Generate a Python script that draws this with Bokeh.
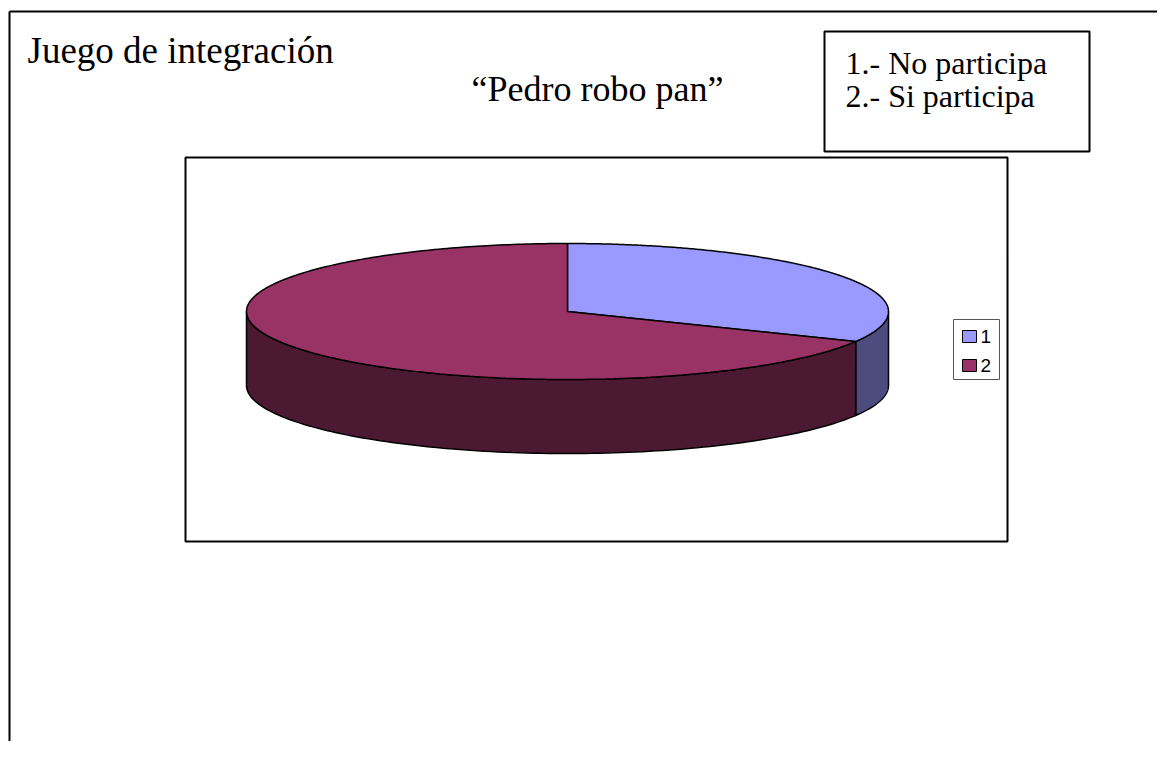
import numpy as np
from bokeh.plotting import figure
from bokeh.models import Range1d
from bokeh.core.properties import value
from bokeh.embed import file_html
from bokeh.resources import INLINE

# ---- data ----
categories = ["1", "2"]
counts = [10, 21]
top_colors = ["#9999FF", "#993366"]
side_colors = ["#4C4C7F", "#4C1933"]
title_main = "Juego de integración"
title_sub = "\u201cPedro robo pan\u201d"
note_lines = ["1.- No participa", "2.- Si participa"]

W, H = 1157, 741
p = figure(width=W, height=H, output_backend="svg", toolbar_location=None,
           x_range=Range1d(0, W), y_range=Range1d(H, 0),
           min_border=0, x_axis_location=None, y_axis_location=None,
           tools="")
p.grid.visible = False
p.outline_line_color = None
p.background_fill_color = "white"
p.border_fill_color = "white"

# outer page border (top and left)
p.line([9, 1180], [11, 11], line_color="black", line_width=2)
p.line([9, 9], [11, 770], line_color="black", line_width=2)

serif = value("Liberation Serif")
p.text(x=[27], y=[50], text=[title_main], text_font=serif, text_font_size="37px",
       text_baseline="middle", text_color="black")
p.text(x=[597], y=[88], text=[title_sub], text_font=serif, text_font_size="36px",
       text_baseline="middle", text_align="center", text_color="black")

# note box
p.quad(left=[824], right=[1089], top=[31], bottom=[151], fill_color="white",
       line_color="black", line_width=2)
p.text(x=[845, 845], y=[62, 95], text=note_lines, text_font=serif,
       text_font_size="32px", text_baseline="middle", text_color="black")

# chart area box
p.quad(left=[185], right=[1007], top=[157], bottom=[541], fill_color="white",
       line_color="black", line_width=2)

# ---- 3D pie ----
cx, cy, rx, ry, depth = 567, 311, 321, 68, 74
vals = np.array(counts, dtype=float)
fr = vals / vals.sum()
starts = 90 - 360 * np.concatenate([[0], np.cumsum(fr)[:-1]])
ends = starts - 360 * fr


def ex(t):
    return cx + rx * np.cos(np.radians(t))


def ey(t):
    return cy - ry * np.sin(np.radians(t))


# side walls (visible front half: 180..360 deg)
wall_xs, wall_ys, wall_cols = [], [], []
for s, e, col in zip(starts, ends, side_colors):
    for k in range(-2, 2):
        lo = max(e, 180 + 360 * k)
        hi = min(s, 360 + 360 * k)
        if hi > lo:
            t = np.linspace(lo, hi, 120)
            xs = list(ex(t)) + list(ex(t[::-1]))
            ys = list(ey(t)) + list(ey(t[::-1]) + depth)
            wall_xs.append(xs)
            wall_ys.append(ys)
            wall_cols.append(col)
p.patches(wall_xs, wall_ys, fill_color=wall_cols, line_color="black", line_width=1.5)

# top faces
top_xs, top_ys = [], []
for s, e in zip(starts, ends):
    t = np.linspace(s, e, 300)
    top_xs.append([cx] + list(ex(t)))
    top_ys.append([cy] + list(ey(t)))
p.patches(top_xs, top_ys, fill_color=top_colors, line_color="black", line_width=1.5)

# legend
p.quad(left=[953], right=[999], top=[319], bottom=[379], fill_color="white",
       line_color="#555555", line_width=1)
leg_y = [336, 365]
p.quad(left=[962, 962], right=[976, 976], top=[y - 6 for y in leg_y],
       bottom=[y + 6 for y in leg_y], fill_color=top_colors, line_color="black",
       line_width=1)
p.text(x=[980, 980], y=leg_y, text=categories, text_font=value("Liberation Sans"),
       text_font_size="19px", text_baseline="middle", text_color="black")

open("out.html", "w").write(file_html(p, INLINE))
